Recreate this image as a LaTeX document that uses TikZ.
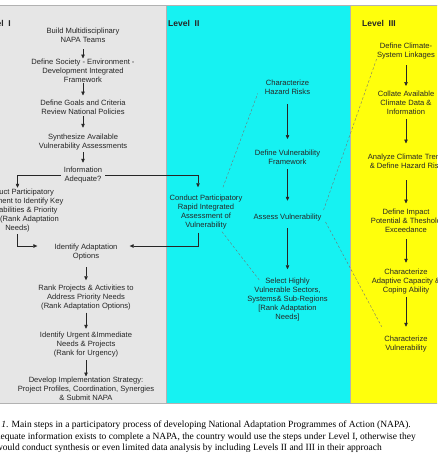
\documentclass[tikz,border=0pt]{standalone}
\usepackage{fontspec}
\setmainfont{Liberation Serif}
\newfontfamily\diagfont{Liberation Sans}
\usetikzlibrary{arrows.meta,calc}
\definecolor{panelgrey}{RGB}{230,230,230}
\definecolor{panelcyan}{RGB}{22,242,242}
\definecolor{panelyellow}{RGB}{255,255,12}
\definecolor{txt}{RGB}{38,38,38}
\begin{document}
\begin{tikzpicture}[x=1pt,y=-1pt,
  stepnode/.style={inner sep=0pt, align=center, font=\diagfont\fontsize{7.6}{9}\selectfont, text=txt},
  levellabel/.style={inner sep=0pt, font=\diagfont\bfseries\fontsize{8.5}{10}\selectfont, text=black!85},
  arr/.style={-{Triangle[length=4pt,width=3.5pt]}, line width=0.5pt, draw=black!85},
  dashlink/.style={dash pattern=on 2.5pt off 2pt, line width=0.4pt, draw=black!55},
  panel/.style={draw=gray!60, line width=0.7pt},
  captionline/.style={inner sep=0pt, anchor=base east, font=\fontsize{9.5}{11.5}\selectfont}
]
\useasboundingbox (0,0) rectangle (437,461);
\clip (0,0) rectangle (437,461);
\fill[white] (0,0) rectangle (437,461);
% panels
\path[panel, fill=panelgrey] (-5,5) rectangle (166,403);
\path[panel, fill=panelcyan] (166,5) rectangle (350,403);
\path[panel, fill=panelyellow] (350,5) rectangle (445,403);
% level labels
\node[levellabel, anchor=east] (lvlone) at (11,23) {Level~~I};
\node[levellabel, anchor=west] (lvltwo) at (168,23) {Level~~II};
\node[levellabel, anchor=west] (lvlthree) at (362,23) {Level~~III};
% Level I
\node[stepnode] (build) at (83,35) {Build Multidisciplinary\\NAPA Teams};
\node[stepnode] (society) at (83,70.5) {Define Society - Environment -\\Development Integrated\\Framework};
\node[stepnode] (goals) at (83,107) {Define Goals and Criteria\\Review National Policies};
\node[stepnode] (synth) at (83,142) {Synthesize Available\\Vulnerability Assessments};
\node[stepnode] (info) at (83,175) {Information\\Adequate?};
\node[stepnode] (condL) at (17.5,210.5) {Conduct Participatory\\Assessment to Identify Key\\Vulnerabilities \& Priority\\Needs (Rank Adaptation\\Needs)};
\node[stepnode] (idA) at (86,252) {Identify Adaptation\\Options};
\node[stepnode] (rank) at (86,298) {Rank Projects \& Activities to\\Address Priority Needs\\(Rank Adaptation Options)};
\node[stepnode] (urgent) at (86,344.5) {Identify Urgent \&Immediate\\Needs \& Projects\\(Rank for Urgency)};
\node[stepnode] (develop) at (86,388.5) {Develop Implementation Strategy:\\Project Profiles, Coordination, Synergies\\\& Submit NAPA};
% Level II
\node[stepnode] (condR) at (206,212.5) {Conduct Participatory\\Rapid Integrated\\Assessment of\\Vulnerability};
\node[stepnode] (char) at (287.5,87) {Characterize\\Hazard Risks};
\node[stepnode] (defvul) at (287.5,157.5) {Define Vulnerability\\Framework};
\node[stepnode] (assess) at (287.5,217.5) {Assess Vulnerability};
\node[stepnode] (select) at (287.5,300) {Select Highly\\Vulnerable Sectors,\\Systems\& Sub-Regions\\{[Rank Adaptation}\\Needs]};
% Level III
\node[stepnode] (defclim) at (406,51) {Define Climate-\\System Linkages};
\node[stepnode] (collate) at (406,103) {Collate Available\\Climate Data \&\\Information};
\node[stepnode] (analyze) at (408,161) {Analyze Climate Trends\\\& Define Hazard Risks};
\node[stepnode] (impact) at (406,220.5) {Define Impact\\Potential \& Theshold\\Exceedance};
\node[stepnode] (adaptive) at (406,281.5) {Characterize\\Adaptive Capacity \&\\Coping Ability};
\node[stepnode] (charvul) at (406,344) {Characterize\\Vulnerability};
% Level I arrows
\draw[arr, shorten <=7pt] (build) -- (society);
\draw[arr, shorten <=1pt, shorten >=4pt] (society) -- (goals);
\draw[arr, shorten <=2pt, shorten >=6pt] (goals) -- (synth);
\draw[arr, shorten <=2pt, shorten >=4pt] (synth) -- (info);
\draw[arr, shorten <=3pt, shorten >=1pt] (info.west) -| (condL.north);
\draw[arr, shorten <=3pt, shorten >=8pt] (info.east) -| ([xshift=-8pt]condR.north);
\draw[arr, shorten <=2pt, shorten >=17pt] (condL.south) |- ([yshift=6pt]idA.west);
\draw[arr, shorten <=3pt, shorten >=12pt] ([xshift=-8pt]condR.south) |- ([yshift=6pt]idA.east);
\draw[arr, shorten <=7pt, shorten >=5pt] (idA) -- (rank);
\draw[arr, shorten <=2pt, shorten >=3pt] (rank) -- (urgent);
\draw[arr, shorten <=3pt] (urgent) -- (develop);
% Level II arrows
\draw[arr, shorten <=10pt, shorten >=11pt] (char) -- (defvul);
\draw[arr, shorten <=4pt, shorten >=13pt] (defvul) -- (assess);
\draw[arr, shorten <=7pt, shorten >=9pt] (assess) -- (select);
% Level III arrows
\draw[arr, shorten <=6pt, shorten >=5pt] (defclim) -- (collate);
\draw[arr, shorten <=4pt, shorten >=10pt] (collate.south) -- (collate.south |- analyze.north);
\draw[arr, shorten <=12pt, shorten >=5pt] (analyze.south -| impact) -- (impact.north);
\draw[arr, shorten <=7pt, shorten >=6pt] (impact) -- (adaptive);
\draw[arr, shorten <=3pt, shorten >=9pt] (adaptive) -- (charvul);
% dashed links
\draw[dashlink] ($(condR.north)+(17,-8)$) -- ($(char.south west)+(-7,-1)$);
\draw[dashlink] ($(condR.south)+(16,2)$) -- ($(select.north)+(-28,2)$);
\draw[dashlink] ($(assess.east)+(2,-7.5)$) -- ($(defclim.south west)+(0,-1)$);
\draw[dashlink] ($(assess.east)+(4,4.5)$) -- ($(charvul.north west)+(-2.5,-9)$);
% caption
\node[captionline] (capone) at (411,427) {\textit{Figure 1}. Main steps in a participatory process of developing National Adaptation Programmes of Action (NAPA).};
\node[captionline] (captwo) at (416,439) {If adequate information exists to complete a NAPA, the country would use the steps under Level I, otherwise they};
\node[captionline] (capthree) at (382,450) {would conduct synthesis or even limited data analysis by including Levels II and III in their approach};
\end{tikzpicture}
\end{document}
